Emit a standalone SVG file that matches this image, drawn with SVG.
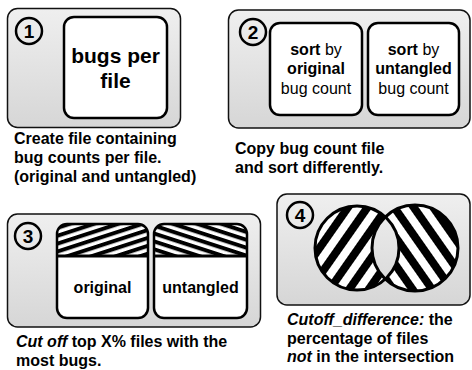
<svg xmlns="http://www.w3.org/2000/svg" width="472" height="370" viewBox="0 0 472 370">
  <defs>
    <linearGradient id="panelFill" x1="0" y1="0" x2="0" y2="1">
      <stop offset="0" stop-color="#efefef"/>
      <stop offset="1" stop-color="#d6d6d6"/>
    </linearGradient>
    <linearGradient id="panelFill4" gradientUnits="userSpaceOnUse" x1="0" y1="194" x2="0" y2="305">
      <stop offset="0" stop-color="#efefef"/>
      <stop offset="1" stop-color="#d6d6d6"/>
    </linearGradient>
    <!-- shallow hatching for the cut-off bands -->
    <pattern id="hatchUp" width="20" height="7.5" patternUnits="userSpaceOnUse" patternTransform="rotate(-18)">
      <rect width="20" height="7.5" fill="#fff"/>
      <rect width="20" height="4" fill="#000"/>
    </pattern>
    <pattern id="hatchDown" width="20" height="7.5" patternUnits="userSpaceOnUse" patternTransform="rotate(18)">
      <rect width="20" height="7.5" fill="#fff"/>
      <rect width="20" height="4" fill="#000"/>
    </pattern>
    <!-- steep hatching for the set circles -->
    <pattern id="setUp" width="20" height="16" patternUnits="userSpaceOnUse" patternTransform="rotate(-55)">
      <rect width="20" height="16" fill="#fff"/>
      <rect width="20" height="8" fill="#000"/>
    </pattern>
    <pattern id="setDown" width="20" height="16" patternUnits="userSpaceOnUse" patternTransform="rotate(55)">
      <rect width="20" height="16" fill="#fff"/>
      <rect width="20" height="8" fill="#000"/>
    </pattern>
    <clipPath id="clipRight">
      <circle cx="415" cy="248" r="43"/>
    </clipPath>
  </defs>
  <style>
    .panel { fill: url(#panelFill); stroke: #111; stroke-width: 1.5; }
    .card { fill: #fff; stroke: #000; stroke-width: 2.5; }
    .frame { fill: none; stroke: #000; stroke-width: 2.5; }
    .divider { stroke: #000; stroke-width: 3; }
    .badge { fill: none; stroke: #000; stroke-width: 2.5; }
    .num { font-family: "Liberation Sans", Arial, sans-serif; font-weight: bold; font-size: 19px; text-anchor: middle; fill: #000; }
    .t { font-family: "Liberation Sans", Arial, sans-serif; font-size: 16px; fill: #000; }
    .b { font-weight: bold; }
    .i { font-style: italic; }
    .c { text-anchor: middle; }
    .big { font-size: 21px; font-weight: bold; }
    .ring { fill: none; stroke: #000; stroke-width: 3; }
  </style>

  <!-- step 1: bug counts per file -->
  <g id="step1">
    <rect class="panel" x="7.5" y="8.5" width="173" height="119" rx="10"/>
    <circle class="badge" cx="29" cy="31" r="13"/>
    <text class="num" x="29" y="38">1</text>
    <rect class="card" x="64" y="17" width="103" height="101" rx="10"/>
    <text class="t big c" x="115.5" y="63">bugs per</text>
    <text class="t big c" x="115.5" y="88">file</text>
    <text class="t b" x="14" y="144">Create file containing</text>
    <text class="t b" x="14" y="163">bug counts per file.</text>
    <text class="t b" x="14" y="182">(original and untangled)</text>
  </g>

  <!-- step 2: sorted copies -->
  <g id="step2">
    <rect class="panel" x="228.5" y="10" width="241.5" height="118" rx="10"/>
    <circle class="badge" cx="253" cy="32" r="13"/>
    <text class="num" x="253" y="39">2</text>
    <rect class="card" x="270" y="23" width="92" height="92" rx="10"/>
    <rect class="card" x="368" y="23" width="91" height="92" rx="10"/>
    <text class="t c" x="316" y="55"><tspan class="b">sort</tspan> by</text>
    <text class="t c b" x="316" y="74">original</text>
    <text class="t c" x="316" y="94">bug count</text>
    <text class="t c" x="413.5" y="55"><tspan class="b">sort</tspan> by</text>
    <text class="t c b" x="413.5" y="74">untangled</text>
    <text class="t c" x="413.5" y="94">bug count</text>
    <text class="t b" x="235" y="154">Copy bug count file</text>
    <text class="t b" x="235" y="173">and sort differently.</text>
  </g>

  <!-- step 3: cut off the top files -->
  <g id="step3">
    <rect class="panel" x="7.5" y="214" width="253" height="113" rx="10"/>
    <circle class="badge" cx="28" cy="236" r="13"/>
    <text class="num" x="28" y="243">3</text>
    <!-- original ranking: hatched top band over the remaining files -->
    <path d="M57 256 V234 a10 10 0 0 1 10 -10 H138 a10 10 0 0 1 10 10 V256 Z" fill="url(#hatchUp)"/>
    <path d="M57 256 H148 V308 a10 10 0 0 1 -10 10 H67 a10 10 0 0 1 -10 -10 Z" fill="#fff"/>
    <rect class="frame" x="57" y="224" width="91" height="94" rx="10"/>
    <line class="divider" x1="57" y1="256" x2="148" y2="256"/>
    <!-- untangled ranking -->
    <path d="M154 256 V234 a10 10 0 0 1 10 -10 H237 a10 10 0 0 1 10 10 V256 Z" fill="url(#hatchDown)"/>
    <path d="M154 256 H247 V308 a10 10 0 0 1 -10 10 H164 a10 10 0 0 1 -10 -10 Z" fill="#fff"/>
    <rect class="frame" x="154" y="224" width="93" height="94" rx="10"/>
    <line class="divider" x1="154" y1="256" x2="247" y2="256"/>
    <text class="t b c" x="102.5" y="293">original</text>
    <text class="t b c" x="200.5" y="293">untangled</text>
    <text class="t b" x="16" y="347"><tspan class="i">Cut off</tspan> top X% files with the</text>
    <text class="t b" x="16" y="366">most bugs.</text>
  </g>

  <!-- step 4: symmetric difference of the two cut-offs -->
  <g id="step4">
    <rect class="panel" x="277" y="194" width="193" height="111" rx="10" style="fill:url(#panelFill4)"/>
    <circle class="badge" cx="300" cy="215" r="13"/>
    <text class="num" x="300" y="222">4</text>
    <circle cx="357" cy="248" r="42" fill="url(#setUp)"/>
    <circle cx="415" cy="248" r="43" fill="url(#setDown)"/>
    <!-- the shared part stays unhatched -->
    <circle cx="357" cy="248" r="42" fill="url(#panelFill4)" clip-path="url(#clipRight)"/>
    <circle class="ring" cx="357" cy="248" r="42"/>
    <circle class="ring" cx="415" cy="248" r="43"/>
    <text class="t b" x="287" y="325"><tspan class="i">Cutoff_difference:</tspan> the</text>
    <text class="t b" x="287" y="344">percentage of files</text>
    <text class="t b" x="287" y="362"><tspan class="i">not</tspan> in the intersection</text>
  </g>

  <!-- no connectors between steps -->
  <g id="connectors"/>
</svg>
